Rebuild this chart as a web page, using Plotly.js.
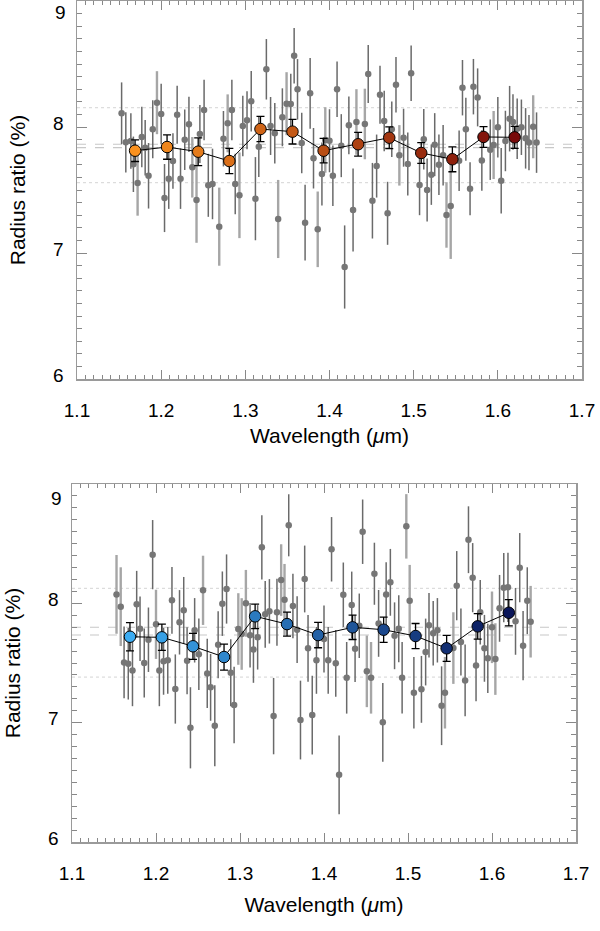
<!DOCTYPE html>
<html>
<head>
<meta charset="utf-8">
<script src="https://cdn.plot.ly/plotly-3.0.1.min.js"></script>
<style>html,body{margin:0;padding:0;background:#fff;}#chart{width:600px;height:931px;}</style>
</head>
<body>
<div id="chart"></div>
<script>
// ---------------- DATA ----------------
const xTickVals = [1.1, 1.2, 1.3, 1.4, 1.5, 1.6, 1.7];
const xTickText = ["1.1", "1.2", "1.3", "1.4", "1.5", "1.6", "1.7"];
const yTickVals = [6, 7, 8, 9];
const yTickText = ["6", "7", "8", "9"];

// Binned wavelengths (both panels)
const binWave = [1.169, 1.207, 1.244, 1.281, 1.318, 1.356, 1.393, 1.434, 1.471, 1.509, 1.546, 1.583, 1.620];

// Top panel: binned radius ratio
const topBinRatio = [7.812, 7.841, 7.804, 7.730, 7.984, 7.963, 7.812, 7.863, 7.915, 7.794, 7.744, 7.921, 7.918];
const topBinErr   = [0.086, 0.097, 0.110, 0.100, 0.100, 0.098, 0.097, 0.094, 0.086, 0.082, 0.099, 0.082, 0.087];

// Bottom panel: binned radius ratio
const botBinRatio = [7.720, 7.715, 7.640, 7.550, 7.891, 7.826, 7.734, 7.799, 7.779, 7.726, 7.623, 7.807, 7.921];
const botBinErr   = [0.119, 0.110, 0.109, 0.109, 0.103, 0.100, 0.106, 0.102, 0.106, 0.105, 0.109, 0.107, 0.110];

// Top panel: unbinned channels, set A
const topAWave = [1.153,1.158,1.164,1.167,1.177,1.181,1.185,1.190,1.200,1.204,
                  1.209,1.214,1.219,1.223,1.228,1.233,1.246,1.251,1.256,1.261,
                  1.274,1.284,1.288,1.297,1.302,1.307,1.312,1.316,1.325,1.330,
                  1.335,1.344,1.354,1.358,1.362,1.367,1.371,1.377,1.381,1.391,
                  1.400,1.404,1.409,1.414,1.418,1.423,1.428,1.446,1.451,1.456,
                  1.460,1.465,1.469,1.474,1.479,1.488,1.493,1.497,1.507,1.512,
                  1.516,1.521,1.525,1.530,1.535,1.554,1.558,1.562,1.567,1.571,
                  1.576,1.581,1.591,1.600,1.604,1.609,1.614,1.618,1.623,1.628,
                  1.633,1.637,1.646];
const topARatio = [8.109,7.878,7.889,7.704,7.921,7.836,7.613,7.982,8.103,7.436,
                   7.590,7.730,8.098,7.590,7.899,8.021,7.944,8.135,7.537,7.548,
                   7.907,8.135,7.548,8.008,8.053,8.204,7.431,7.844,8.458,8.008,
                   7.950,8.077,8.183,8.566,8.299,7.873,7.241,8.267,7.752,7.627,
                   7.891,7.613,8.299,7.852,6.889,8.013,7.341,8.421,7.415,7.690,
                   8.256,8.048,7.315,7.982,8.336,7.915,7.706,8.426,7.540,7.902,
                   7.500,7.622,7.860,7.701,7.775,7.733,8.312,7.982,7.510,8.320,
                   8.235,7.735,7.820,7.998,7.574,7.889,8.066,8.040,7.987,7.998,
                   7.910,7.876,7.876];
const topAErr = [0.245,0.24,0.22,0.22,0.24,0.22,0.26,0.23,0.24,0.27,
                 0.24,0.22,0.23,0.24,0.24,0.22,0.23,0.24,0.25,0.28,
                 0.22,0.24,0.24,0.24,0.23,0.24,0.33,0.24,0.24,0.23,
                 0.24,0.23,0.24,0.22,0.24,0.24,0.30,0.28,0.24,0.25,
                 0.25,0.24,0.22,0.25,0.33,0.23,0.33,0.23,0.30,0.25,
                 0.23,0.24,0.25,0.22,0.22,0.23,0.25,0.22,0.24,0.24,
                 0.25,0.24,0.25,0.24,0.24,0.24,0.22,0.25,0.21,0.22,
                 0.23,0.24,0.24,0.24,0.26,0.24,0.26,0.22,0.24,0.22,
                 0.24,0.22,0.24];

// Top panel: unbinned channels, set B
const topBWave  = [1.172,1.195,1.237,1.242,1.269,1.279,1.293,1.339,1.349,1.386,1.395,1.432,1.442,1.483,1.539,1.544,1.595,1.642];
const topBRatio = [7.556,8.193,7.680,7.421,7.209,8.029,7.458,7.270,8.185,7.188,7.897,8.040,8.024,7.775,7.302,7.373,7.857,8.002];
const topBErr   = [0.26,0.25,0.24,0.34,0.31,0.23,0.34,0.31,0.25,0.30,0.26,0.26,0.28,0.24,0.26,0.42,0.27,0.25];

// Bottom panel: unbinned channels, set A
const botAWave = [1.162,1.167,1.172,1.177,1.181,1.186,1.191,1.196,1.204,1.209,
                  1.214,1.219,1.223,1.228,1.233,1.237,1.241,1.246,1.251,1.261,
                  1.265,1.270,1.274,1.279,1.284,1.289,1.293,1.312,1.316,1.321,
                  1.326,1.330,1.335,1.340,1.344,1.358,1.363,1.368,1.372,1.377,
                  1.381,1.386,1.391,1.400,1.405,1.409,1.414,1.418,1.423,1.427,
                  1.433,1.437,1.442,1.446,1.460,1.465,1.470,1.474,1.479,1.484,
                  1.489,1.493,1.507,1.516,1.521,1.525,1.530,1.535,1.540,1.558,
                  1.563,1.568,1.572,1.577,1.581,1.586,1.591,1.595,1.609,1.614,
                  1.619,1.628,1.633,1.637,1.642];
const botARatio = [7.505,7.494,7.438,7.992,7.787,7.500,7.695,8.408,7.438,7.514,
                   7.522,8.025,7.282,7.841,7.941,7.519,6.957,7.774,7.573,7.413,
                   7.296,6.974,7.653,7.997,8.120,7.418,7.148,7.732,7.614,7.715,
                   8.469,7.908,7.933,7.055,7.925,8.654,7.977,7.779,7.022,8.204,
                   7.623,7.064,7.522,7.701,7.522,8.453,7.497,6.563,8.072,7.376,
                   7.986,7.620,7.812,8.600,8.248,7.832,7.003,8.075,8.176,7.728,
                   7.787,7.376,7.251,7.279,7.592,7.816,7.749,7.774,7.142,8.148,
                   7.676,7.354,8.533,8.215,7.480,7.925,7.623,7.539,7.958,8.131,
                   8.134,7.849,8.299,7.645,8.022];
const botAErr = [0.30,0.30,0.30,0.28,0.27,0.29,0.27,0.29,0.30,0.28,
                 0.28,0.28,0.29,0.27,0.28,0.28,0.34,0.27,0.30,0.29,
                 0.28,0.34,0.28,0.27,0.29,0.28,0.32,0.27,0.28,0.27,
                 0.27,0.28,0.27,0.32,0.28,0.26,0.27,0.28,0.33,0.28,
                 0.28,0.33,0.28,0.28,0.28,0.27,0.28,0.33,0.27,0.30,
                 0.28,0.28,0.27,0.27,0.26,0.28,0.33,0.27,0.28,0.28,
                 0.28,0.30,0.30,0.28,0.28,0.27,0.27,0.27,0.33,0.29,
                 0.28,0.30,0.28,0.29,0.30,0.27,0.28,0.29,0.28,0.29,
                 0.29,0.28,0.29,0.29,0.28];

// Bottom panel: unbinned channels, set B
const botBWave  = [1.153,1.158,1.200,1.256,1.298,1.302,1.307,1.349,1.353,1.451,1.456,1.498,1.502,1.544,1.554,1.600,1.604,1.646];
const botBRatio = [8.075,7.972,7.824,8.109,7.785,7.743,8.000,8.195,8.030,7.430,7.376,8.645,8.022,7.251,7.625,7.799,7.533,7.846];
const botBErr   = [0.33,0.33,0.29,0.29,0.30,0.30,0.28,0.30,0.30,0.30,0.30,0.27,0.30,0.30,0.30,0.30,0.30,0.30];

// Reference levels: mean (pair of dashed lines) and dotted envelope
const topMeanLevels = [7.863, 7.836];
const topEnvLevels  = [8.153, 7.558];
const botMeanLevels = [7.800, 7.735];
const botEnvLevels  = [8.126, 7.382];

// ---------------- STYLE ----------------
const FONT = "'Liberation Sans', Arial, Helvetica, sans-serif";
function gradient(c0, c1, n) {
  const out = [];
  for (let i = 0; i < n; i++) {
    const t = n > 1 ? i / (n - 1) : 0;
    const c = c0.map((v, k) => Math.round(v + (c1[k] - v) * t));
    out.push(`rgb(${c[0]},${c[1]},${c[2]})`);
  }
  return out;
}
const topColors = gradient([250, 145, 30], [120, 10, 10], binWave.length);
const botColors = gradient([60, 172, 242], [10, 22, 90], binWave.length);

function grayTrace(x, y, e, xa, ya, light) {
  return {
    type: 'scatter', mode: 'markers', x: x, y: y, xaxis: xa, yaxis: ya,
    marker: { size: 6.5, color: '#767676' },
    error_y: { type: 'data', array: e, visible: true, width: 0,
               color: light ? '#a6a6a6' : '#6a6a6a', thickness: light ? 2.4 : 1.5 },
    hoverinfo: 'skip'
  };
}
function binTrace(x, y, e, colors, xa, ya) {
  return {
    type: 'scatter', mode: 'lines+markers', x: x, y: y, xaxis: xa, yaxis: ya,
    line: { color: '#000', width: 1 },
    marker: { size: 11.5, color: colors, line: { color: '#000', width: 1 } },
    error_y: { type: 'data', array: e, visible: true, width: 4, color: '#000', thickness: 1.3 }
  };
}

const traces = [
  grayTrace(topBWave, topBRatio, topBErr, 'x', 'y', true),
  grayTrace(topAWave, topARatio, topAErr, 'x', 'y', false),
  binTrace(binWave, topBinRatio, topBinErr, topColors, 'x', 'y'),
  grayTrace(botBWave, botBRatio, botBErr, 'x2', 'y2', true),
  grayTrace(botAWave, botARatio, botAErr, 'x2', 'y2', false),
  binTrace(binWave, botBinRatio, botBinErr, botColors, 'x2', 'y2')
];

const W = 600, H = 931;
function xAxis(l, r, anchor, titleStandoff) {
  return {
    domain: [l / W, r / W], anchor: anchor, range: [xTickVals[0], xTickVals[xTickVals.length - 1]],
    tickmode: 'array', tickvals: xTickVals, ticktext: xTickText,
    ticks: 'inside', ticklen: 9, tickwidth: 1, tickcolor: '#888',
    minor: { dtick: 0.01, ticks: 'inside', ticklen: 4, tickcolor: '#888', tickwidth: 1 },
    showline: true, linecolor: '#9a9a9a', linewidth: 1.5, mirror: 'ticks',
    showgrid: false, zeroline: false, fixedrange: true,
    tickfont: { family: FONT, size: 19, color: '#000' }, ticklabelstandoff: 14,
    title: { text: 'Wavelength (<i>μ</i>m)', font: { family: FONT, size: 21, color: '#000' }, standoff: titleStandoff }
  };
}
function yAxis(t, b, anchor) {
  return {
    domain: [1 - b / H, 1 - t / H], anchor: anchor, range: [yTickVals[0], yTickVals[yTickVals.length - 1]],
    tickmode: 'array', tickvals: yTickVals, ticktext: yTickText.map((s, i) => i === yTickText.length - 1 ? '' : s),
    ticks: 'inside', ticklen: 10, tickwidth: 1, tickcolor: '#888',
    minor: { dtick: 0.1, ticks: 'inside', ticklen: 5, tickcolor: '#888', tickwidth: 1 },
    showline: true, linecolor: '#9a9a9a', linewidth: 1.5, mirror: 'ticks',
    showgrid: false, zeroline: false, fixedrange: true,
    tickfont: { family: FONT, size: 19, color: '#000' }, ticklabelstandoff: 8, ticklabelshift: -4,
    title: { text: 'Radius ratio (%)', font: { family: FONT, size: 21, color: '#000' }, standoff: 22 }
  };
}

function levelShapes(mean, env, xref, yref) {
  const s = [];
  mean.forEach(v => s.push({ type: 'line', xref: xref + ' domain', x0: 0, x1: 1, yref: yref, y0: v, y1: v,
    line: { color: '#c8c8c8', width: 1.1, dash: 'dash' }, layer: 'below' }));
  env.forEach(v => s.push({ type: 'line', xref: xref + ' domain', x0: 0, x1: 1, yref: yref, y0: v, y1: v,
    line: { color: '#d4d4d4', width: 1, dash: 'dot' }, layer: 'below' }));
  return s;
}

function topLabel(xref, yref, xpx, shift) {
  return { text: yTickText[yTickText.length - 1], xref: 'paper', x: xpx / W, yref: yref,
    y: yTickVals[yTickVals.length - 1], xanchor: 'right', yanchor: 'middle', yshift: shift,
    showarrow: false, font: { family: FONT, size: 19, color: '#000' } };
}

const layout = {
  width: W, height: H, margin: { l: 0, r: 0, t: 0, b: 0 },
  paper_bgcolor: '#fff', plot_bgcolor: '#fff', showlegend: false,
  xaxis: xAxis(77, 582, 'y', 8),
  yaxis: yAxis(1, 379, 'x'),
  xaxis2: xAxis(72, 576, 'y2', 14),
  yaxis2: yAxis(484, 842, 'x2'),
  shapes: levelShapes(topMeanLevels, topEnvLevels, 'x', 'y').concat(levelShapes(botMeanLevels, botEnvLevels, 'x2', 'y2')),
  annotations: [topLabel('x', 'y', 68, -12), topLabel('x2', 'y2', 64, -14)]
};

Plotly.newPlot('chart', traces, layout, { displayModeBar: false, staticPlot: true });
</script>
</body>
</html>
